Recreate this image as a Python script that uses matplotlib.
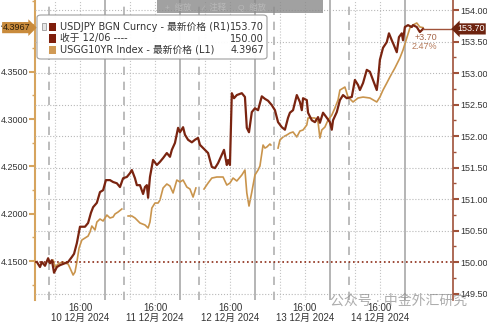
import matplotlib

matplotlib.use("Agg")
import matplotlib.pyplot as plt
import matplotlib.transforms as mtransforms
from matplotlib.patches import FancyBboxPatch, Rectangle
from matplotlib.ticker import MultipleLocator

plt.rcParams["font.family"] = ["Liberation Sans", "Noto Sans CJK SC"]
FONTE_LEG = ["DejaVu Sans", "Noto Sans CJK SC"]

# horas desde 10/12 00:00
jpy_h = [2.2, 3.2, 3.8, 4.8, 5.8, 6.4, 7.0, 7.7, 8.6, 9.6, 11.2, 12.2, 13.4, 14.1, 15.0,
         16.0, 17.6, 18.6, 19.5, 20.2, 21.4, 22.4, 23.4, 24.3, 25.6, 26.6, 27.8, 28.8,
         29.8, 31.0, 32.0, 32.6, 33.6, 34.2, 35.2, 36.2, 36.8, 37.4, 37.8, 38.4, 39.4,
         40.6, 41.6, 42.6, 43.8, 44.8, 45.4, 46.4, 47.4, 48.0, 49.0, 49.6, 50.6, 51.8,
         52.8, 53.8, 54.4, 55.4, 57.0, 58.2, 59.2, 60.2, 61.4, 62.1, 63.0, 63.4, 64.0,
         64.6, 65.3, 66.2, 67.8, 68.8, 69.4, 70.1, 71.0, 72.0, 73.0, 74.2, 75.2, 76.2,
         77.4, 78.4, 79.4, 80.6, 81.6, 82.6, 83.2, 84.2, 85.4, 86.4, 87.0, 87.4, 88.6,
         89.0, 90.2, 91.2, 92.2, 92.8, 93.8, 95.0, 96.0, 96.6, 97.0, 98.2, 99.2, 100.2,
         101.4, 103.0, 104.0, 105.0, 105.6, 106.6, 107.8, 108.8, 109.8, 111.0, 111.4,
         112.0, 113.0, 114.2, 114.9, 115.8, 116.5, 117.4, 118.1, 119.0, 119.4, 120.0,
         121.0, 122.2, 122.6, 123.8, 124.8, 125.8]
jpy = [150.00, 149.92, 150.00, 149.94, 150.06, 149.98, 150.03, 149.83, 149.92, 149.95,
       149.98, 150.00, 150.08, 150.13, 150.30, 150.56, 150.56, 150.62, 150.78, 150.87,
       150.94, 151.11, 151.14, 151.30, 151.30, 151.27, 151.25, 151.19, 151.33, 151.35,
       151.41, 151.46, 151.33, 151.22, 151.22, 151.08, 151.19, 151.22, 151.02, 151.35,
       151.62, 151.54, 151.59, 151.65, 151.73, 151.67, 151.78, 151.89, 152.13, 152.06,
       152.14, 152.02, 151.94, 151.90, 151.94, 151.97, 151.86, 151.81, 151.73, 151.51,
       151.49, 151.57, 151.70, 151.78, 151.54, 151.62, 151.54, 152.68, 152.60, 152.65,
       152.68, 152.62, 152.13, 152.06, 152.38, 152.44, 152.41, 152.63, 152.59, 152.56,
       152.49, 152.41, 152.22, 152.14, 152.10, 152.29, 152.37, 152.41, 152.65, 152.54,
       152.41, 152.60, 152.57, 152.37, 152.25, 152.22, 152.30, 152.21, 152.37, 152.29,
       152.22, 152.10, 152.25, 152.38, 152.57, 152.65, 152.60, 152.62, 152.89, 152.81,
       152.73, 152.84, 153.05, 153.02, 152.89, 152.73, 152.89, 153.21, 153.40, 153.49,
       153.63, 153.52, 153.44, 153.33, 153.57, 153.63, 153.52, 153.73, 153.76, 153.73,
       153.76, 153.73, 153.65, 153.70]

# US 10Y, em trechos (com lacunas entre sessões)
ust_h = [
    [6.4, 7.4, 8.0, 9.0, 9.6, 10.6, 11.2, 12.2, 12.8, 13.8, 14.4, 15.0, 15.7, 16.6, 17.6,
     18.6, 19.2, 19.8, 20.8, 21.4, 22.4, 23.4, 24.6, 25.6, 26.6, 27.2, 28.2, 29.4],
    [31.4, 32.6, 33.6, 35.2, 36.8, 37.8, 38.4, 39.0, 40.0, 41.0, 41.6, 42.6, 43.8, 44.8,
     45.8, 47.0, 48.0, 49.0, 50.2, 51.2, 52.2, 53.1],
    [55.7, 57.0, 58.2, 59.8, 61.8, 63.0, 64.0, 65.0, 66.2, 67.8, 68.8, 69.4, 70.1, 71.0,
     72.0, 73.0, 73.6, 74.6, 75.2, 75.8, 76.8, 77.1],
    [79.4, 80.0, 81.0, 82.2, 83.2, 84.2, 85.4, 86.4, 87.4, 88.6, 89.0, 90.2, 91.2, 92.2,
     92.8, 93.4, 94.4, 95.4, 96.6, 97.6, 98.6, 99.2, 100.8, 101.8, 103.4, 105.0, 106.6,
     108.8, 111.0, 112.0, 113.0, 114.2, 115.2, 116.8, 118.4, 119.4, 120.6, 121.6, 122.6,
     123.8, 124.8, 125.8],
]
ust = [
    [4.1479, 4.1511, 4.1437, 4.1468, 4.1479, 4.1489, 4.1479, 4.1468, 4.1426, 4.1352,
     4.1384, 4.1489, 4.1637, 4.1722, 4.1743, 4.1764, 4.1807, 4.1870, 4.1828, 4.1912,
     4.1944, 4.1923, 4.1986, 4.1955, 4.1965, 4.1997, 4.2018, 4.2050],
    [4.1976, 4.1976, 4.1955, 4.1902, 4.1881, 4.1849, 4.1912, 4.2060, 4.2113, 4.2113,
     4.2145, 4.2272, 4.2314, 4.2293, 4.2219, 4.2356, 4.2335, 4.2356, 4.2282, 4.2261,
     4.2176, 4.2272],
    [4.2261, 4.2324, 4.2377, 4.2388, 4.2388, 4.2303, 4.2324, 4.2377, 4.2346, 4.2409,
     4.2462, 4.2219, 4.2081, 4.2229, 4.2409, 4.2462, 4.2504, 4.2726, 4.2694, 4.2705,
     4.2737, 4.2726],
    [4.2694, 4.2779, 4.2811, 4.2832, 4.2853, 4.2864, 4.2811, 4.2874, 4.2885, 4.2938,
     4.3012, 4.3012, 4.3012, 4.2969, 4.2800, 4.2885, 4.2916, 4.2990, 4.3043, 4.3117,
     4.3202, 4.3307, 4.3339, 4.3233, 4.3181, 4.3223, 4.3233, 4.3223, 4.3181, 4.3233,
     4.3307, 4.3381, 4.3445, 4.3540, 4.3646, 4.3730, 4.3857, 4.3963, 4.3995, 4.4016,
     4.3974, 4.3967],
]

dias = [10, 11, 12, 13, 14]
fechamento = 150.00
ultimo_jpy = 153.70
ultimo_ust = 4.3967

C_JPY = "#7a2410"
C_UST = "#c9944c"
C_RAX = "#a0523a"
C_LAX = "#d6a45e"

fig = plt.figure(figsize=(4.87, 3.22), dpi=100)
ax = fig.add_axes([35 / 487, 22 / 322, 418 / 487, 300 / 322])
ax2 = ax.twinx()

ax.set_xlim(1.6, 135.4)
ax.set_ylim(4.1088, 4.4259)
ax2.set_ylim(149.397, 154.159)

# linhas verticais de sessão
for d in range(len(dias)):
    base = 24 * d
    ax.axvline(base + 6, color="#b0b0b0", lw=1.2, ls=(0, (5, 4)), zorder=0)
    ax.axvline(base + 8, color="#c4c4c4", lw=0.8, ls=":", zorder=0)
    ax.axvline(base + 16, color="#c4c4c4", lw=0.8, ls=":", zorder=0)
    ax.axvline(base + 24, color="#a8a8a8", lw=1.2, zorder=0)

for v in [149.5, 150.5, 151.0, 151.5, 152.0, 152.5, 153.0, 153.5, 154.0]:
    ax2.axhline(v, color="#b8b8b8", lw=0.8, ls=":", zorder=0)
ax2.axhline(fechamento, color="#8b2a14", lw=1.2, ls=":", zorder=1)

for h, v in zip(ust_h, ust):
    ax.plot(h, v, color=C_UST, lw=1.2)
ax2.plot(jpy_h, jpy, color=C_JPY, lw=1.6)
ax2.plot([jpy_h[-1], 135.4], [ultimo_jpy, ultimo_jpy], color=C_RAX, lw=1.0)

# eixos
for s in ["top", "bottom"]:
    ax.spines[s].set_visible(False)
    ax2.spines[s].set_visible(False)
ax.spines["left"].set_color(C_LAX)
ax.spines["left"].set_linewidth(1.5)
ax.spines["right"].set_visible(False)
ax2.spines["left"].set_visible(False)
ax2.spines["right"].set_color(C_RAX)
ax2.spines["right"].set_linewidth(1.2)

ax.yaxis.set_major_locator(MultipleLocator(0.05))
ax.yaxis.set_minor_locator(MultipleLocator(0.025))
ax.yaxis.set_major_formatter(plt.FormatStrFormatter("%.4f"))
ax.tick_params(axis="y", which="major", colors=C_LAX, labelcolor="#333333",
               labelsize=6.5, length=4, width=1.5, pad=1)
ax.tick_params(axis="y", which="minor", colors=C_LAX, length=2, width=1)

ax2.yaxis.set_major_locator(MultipleLocator(0.5))
ax2.yaxis.set_minor_locator(MultipleLocator(0.25))
ax2.yaxis.set_major_formatter(plt.FormatStrFormatter("%.2f"))
ax2.tick_params(axis="y", which="major", colors=C_RAX, labelcolor="#333333",
                labelsize=6.5, length=4, width=1.5, pad=1)
ax2.tick_params(axis="y", which="minor", colors=C_RAX, length=2, width=1)

ax.set_xticks([16 + 24 * i for i in range(len(dias))])
ax.set_xticklabels([f"16:00\n{d} 12月 2024" for d in dias])
ax.tick_params(axis="x", length=0, labelsize=7, labelcolor="#333333", pad=2)
for t in ax.get_xticklabels():
    t.set_linespacing(1.0)

# etiquetas de último valor
tl = mtransforms.blended_transform_factory(ax.transAxes, ax.transData)
ax.text(-0.01, ultimo_ust, "4.3967", transform=tl, ha="right", va="center",
        fontsize=6.5, color="#2b1d0a", clip_on=False, zorder=10,
        bbox=dict(boxstyle="rarrow,pad=0.12", fc="#c98b3c", ec="none"))
tr = mtransforms.blended_transform_factory(ax2.transAxes, ax2.transData)
ax2.text(1.01, ultimo_jpy, "153.70", transform=tr, ha="left", va="center",
         fontsize=6.5, color="white", clip_on=False, zorder=10,
         bbox=dict(boxstyle="larrow,pad=0.12", fc="#6e2410", ec="none"))
ax2.text(0.962, 153.56, "+3.70", transform=tr, ha="right", va="center",
         fontsize=6.5, color="#a5664a")
ax2.text(0.962, 153.42, "2.47%", transform=tr, ha="right", va="center",
         fontsize=6.5, color="#b57a5a")

# legenda estilo Bloomberg
fig.patches.append(FancyBboxPatch((37 / 487, 263 / 322), 230 / 487, 44 / 322,
                                  boxstyle="round,pad=0,rounding_size=0.008",
                                  transform=fig.transFigure, fc="white", ec="#9a9a9a",
                                  lw=0.8, alpha=0.95, zorder=20))
fig.patches.append(Rectangle((42 / 487, 1 - 30 / 322), 4 / 487, 7 / 322,
                             transform=fig.transFigure, fc="#e6e6e6", ec="#9a9a9a",
                             lw=0.6, zorder=21))
linhas = [("USDJPY BGN Curncy - 最新价格 (R1)", "153.70", "#7e1e0c"),
          ("收于 12/06 ----", "150.00", "#7e1e0c"),
          ("USGG10YR Index - 最新价格 (L1)", "4.3967", "#d09a55")]
for i, (txt, val, cor) in enumerate(linhas):
    yy = 1 - (27 + 11.5 * i) / 322
    fig.patches.append(Rectangle((49 / 487, yy - 4 / 322), 7 / 487, 8 / 322,
                                 transform=fig.transFigure, fc=cor, ec="none", zorder=21))
    fig.text(60 / 487, yy, txt, fontsize=7, color="#333333", va="center", zorder=22,
             family=FONTE_LEG)
    fig.text(264 / 487, yy, val, fontsize=7, color="#333333", va="center", ha="right",
             zorder=22, family=FONTE_LEG)

# barra de ferramentas no topo
fig.patches.append(Rectangle((157 / 487, 309 / 322), 166 / 487, 13 / 322,
                             transform=fig.transFigure, fc="#8a8a8a", ec="none",
                             alpha=0.8, zorder=20))
fig.text(165 / 487, 315 / 322, "+  缩放     ⁄  注释     Q  缩放", fontsize=6,
         color="#b8b8b8", va="center", zorder=21)

# marca d'água
fig.text(330 / 487, 21 / 322, "公众号 · 中金外汇研究", fontsize=10, color="#8a8a8a",
         alpha=0.7, va="center", zorder=30)

fig.savefig("out.png", dpi=100)
